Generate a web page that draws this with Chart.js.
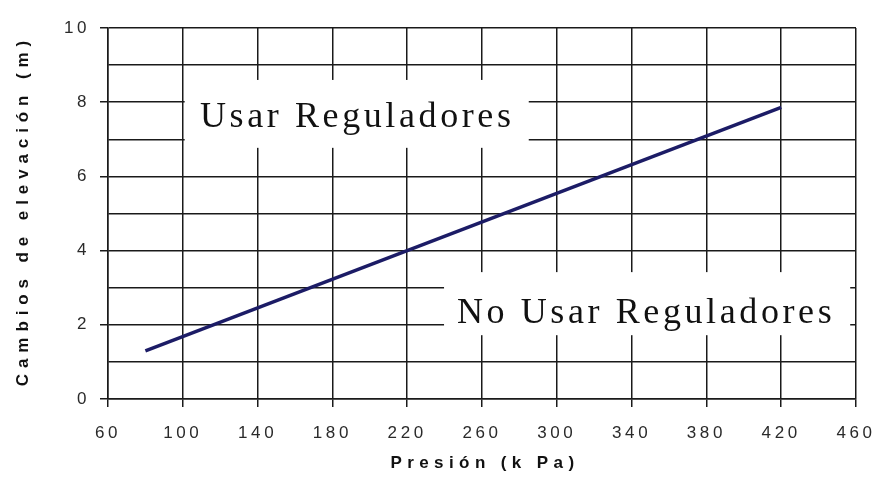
<!DOCTYPE html>
<html>
<head>
<meta charset="utf-8">
<script src="https://cdn.jsdelivr.net/npm/chart.js@4"></script>
<style>
  html, body { margin: 0; padding: 0; background: #fff; }
  #wrap { width: 879px; height: 496px; }
</style>
</head>
<body>
<div id="wrap"><canvas id="chart"></canvas></div>
<script>
// data
const presion = [80, 420];          // kPa
const elevacion = [1.3, 7.86];      // m
const xTicks = [60, 100, 140, 180, 220, 260, 300, 340, 380, 420, 460];
const yLabelTicks = [0, 2, 4, 6, 8, 10];
const zoneLabels = ['Usar Reguladores', 'No Usar Reguladores'];
const xTitle = 'Presión (k Pa)';
const yTitle = 'Cambios de elevación (m)';

const INK = '#1a1a1a';
const SANS = '"Liberation Sans", Arial, sans-serif';

// letter spacing for tick text (canvas state is reset on resize, so set it each pass)
const spacing = {
  id: 'spacing',
  beforeUpdate(chart) { chart.ctx.letterSpacing = '3.6px'; },
  beforeDraw(chart) { chart.ctx.letterSpacing = '3.6px'; }
};

// white boxes with the two zone labels, placed via the scales
const zones = {
  id: 'zones',
  beforeDatasetsDraw(chart) {
    const { ctx, scales: { x, y } } = chart;
    const boxes = [
      { x0: 101, x1: 285, y0: 8.6, y1: 6.77, tx: 109.2, ty: 7.33 },
      { x0: 239.7, x1: 456.9, y0: 3.42, y1: 1.72, tx: 246.6, ty: 2.05 }
    ];
    ctx.save();
    boxes.forEach(function (b, i) {
      const l = x.getPixelForValue(b.x0), r = x.getPixelForValue(b.x1);
      const t = y.getPixelForValue(b.y0), bt = y.getPixelForValue(b.y1);
      ctx.fillStyle = '#fff';
      ctx.fillRect(l, t, r - l, bt - t);
      ctx.letterSpacing = '3.6px';
      ctx.font = '36px "Liberation Serif", "Times New Roman", serif';
      ctx.fillStyle = '#111';
      ctx.textAlign = 'left';
      ctx.textBaseline = 'alphabetic';
      ctx.fillText(zoneLabels[i], x.getPixelForValue(b.tx), y.getPixelForValue(b.ty));
    });
    ctx.restore();
  }
};

// widely spaced bold axis titles
const titles = {
  id: 'titles',
  afterDraw(chart) {
    const { ctx, chartArea: a } = chart;
    ctx.save();
    ctx.font = 'bold 17px ' + SANS;
    ctx.fillStyle = '#111';
    ctx.textAlign = 'center';
    ctx.textBaseline = 'middle';
    ctx.letterSpacing = '5.4px';
    ctx.fillText(xTitle, (a.left + a.right) / 2 + 3, 463);
    ctx.translate(23, (a.top + a.bottom) / 2);
    ctx.rotate(-Math.PI / 2);
    ctx.letterSpacing = '5.9px';
    ctx.fillText(yTitle, 3, 0);
    ctx.restore();
  }
};

new Chart(document.getElementById('chart'), {
  type: 'line',
  data: {
    datasets: [{
      data: presion.map((p, i) => ({ x: p, y: elevacion[i] })),
      borderColor: '#1c1c66',
      borderWidth: 3.5,
      pointRadius: 0,
      tension: 0,
      fill: false
    }]
  },
  options: {
    responsive: true,
    maintainAspectRatio: false,
    animation: false,
    layout: { padding: { top: 28, right: 23, left: 0, bottom: 0 } },
    plugins: { legend: { display: false }, tooltip: { enabled: false } },
    scales: {
      x: {
        type: 'linear',
        min: xTicks[0],
        max: xTicks[xTicks.length - 1],
        afterBuildTicks: s => { s.ticks = xTicks.map(v => ({ value: v })); },
        afterFit: s => { s.height = 97; s.paddingLeft = 0; s.paddingRight = 0; },
        ticks: {
          autoSkip: false,
          maxRotation: 0,
          padding: 16,
          color: '#2a2a2a',
          font: { family: SANS, size: 17 }
        },
        grid: { color: INK, lineWidth: 1.5, tickLength: 8, tickColor: INK },
        border: { color: INK, width: 1.5 }
      },
      y: {
        min: 0,
        max: 10,
        ticks: {
          stepSize: 1,
          autoSkip: false,
          padding: 10,
          color: '#2a2a2a',
          font: { family: SANS, size: 17 },
          callback: v => yLabelTicks.includes(v) ? String(v) : ''
        },
        afterFit: s => { s.width = 108; s.paddingTop = 0; s.paddingBottom = 0; },
        grid: {
          color: INK,
          lineWidth: 1.5,
          tickLength: 8,
          tickColor: c => yLabelTicks.includes(c.tick.value) ? INK : 'rgba(0,0,0,0)'
        },
        border: { color: INK, width: 1.5 }
      }
    }
  },
  plugins: [spacing, zones, titles]
});
</script>
</body>
</html>
